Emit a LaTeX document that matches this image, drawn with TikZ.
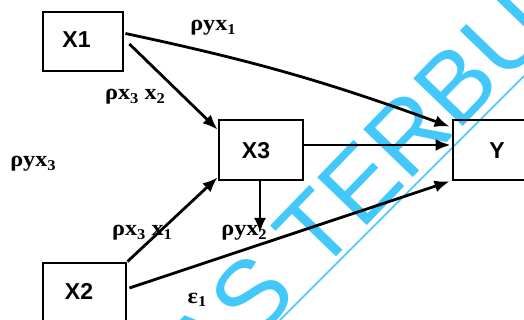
\documentclass[tikz,border=0pt]{standalone}
\usepackage{fontspec}
\setmainfont{Liberation Serif}
\newfontfamily\boxfont{Liberation Sans}
\newfontfamily\wmfont{Liberation Sans}
\usetikzlibrary{arrows.meta,calc}
\definecolor{wmblue}{RGB}{66,200,250}
\newcommand\subsc[1]{\raisebox{-0.35ex}{\fontsize{15}{15}\selectfont #1}}
\begin{document}
\begin{tikzpicture}[x=1pt,y=-1pt,
  box/.style={draw,line width=2.8pt,inner sep=0pt},
  boxlabel/.style={font=\boxfont\bfseries\fontsize{23}{23}\selectfont,inner sep=0pt},
  coef/.style={font=\bfseries\fontsize{22}{22}\selectfont,inner sep=0pt,xscale=1.1},
  link/.style={line width=2.8pt,-{Latex[length=15pt,width=12pt]}},
  wm/.style={font=\wmfont\fontsize{100}{100}\selectfont,text=wmblue,inner sep=0pt}]
\path[use as bounding box,clip] (0,0) rectangle (524,320);
\fill[white] (0,0) rectangle (524,320);
% boxes
\node[box,minimum width=80pt,minimum height=59pt] (x1) at (83,41.5) {};
\node[box,minimum width=84pt,minimum height=60pt] (x3) at (261,150) {};
\node[box,minimum width=87pt,minimum height=60pt] (y) at (496.5,150) {};
\node[box,minimum width=83pt,minimum height=72pt] (x2) at (84.5,299) {};
\node[boxlabel] (x1l) at (76.5,40) {X1};
\node[boxlabel] (x3l) at (256,151) {X3};
\node[boxlabel] (yl) at (497,151) {Y};
\node[boxlabel] (x2l) at (79,291) {X2};
% coefficient labels
\node[coef] (c1) at (213,28) {ρyx\subsc{1}};
\node[coef] (c2) at (135,97) {ρx\subsc{3} x\subsc{2}};
\node[coef] (c3) at (33,164) {ρyx\subsc{3}};
\node[coef] (c4) at (142,233) {ρx\subsc{3} x\subsc{1}};
\node[coef] (c5) at (244,233) {ρyx\subsc{2}};
\node[coef] (c6) at (197,300) {ε\subsc{1}};
% connectors
\draw[link] ([xshift=1pt,yshift=8pt]x1.east) to[bend left=4] ([xshift=-2pt,yshift=-8pt]y.north west);
\draw[link] ([xshift=5pt,yshift=-2.5pt]x1.east) -- ([yshift=-11pt]x3.north west);
\draw[link] ([yshift=5pt]x3.east) -- ([xshift=-1pt,yshift=5pt]y.west);
\coordinate (e2) at (260,233);
\draw[link] (x3.south -| e2) -- (e2);
\draw[link] (x2.north east) -- ([yshift=4pt]x3.south west);
\draw[link] ([xshift=2pt,yshift=11pt]x2.east) -- ([xshift=-2pt]y.south west);
% watermark
\begin{scope}[blend mode=multiply]
\node[wm,rotate=46] (wm) at (356,188) {AS TERBU};
\draw[wmblue,line width=1.5pt] (265,335) -- (535,65);
\end{scope}
\end{tikzpicture}
\end{document}
